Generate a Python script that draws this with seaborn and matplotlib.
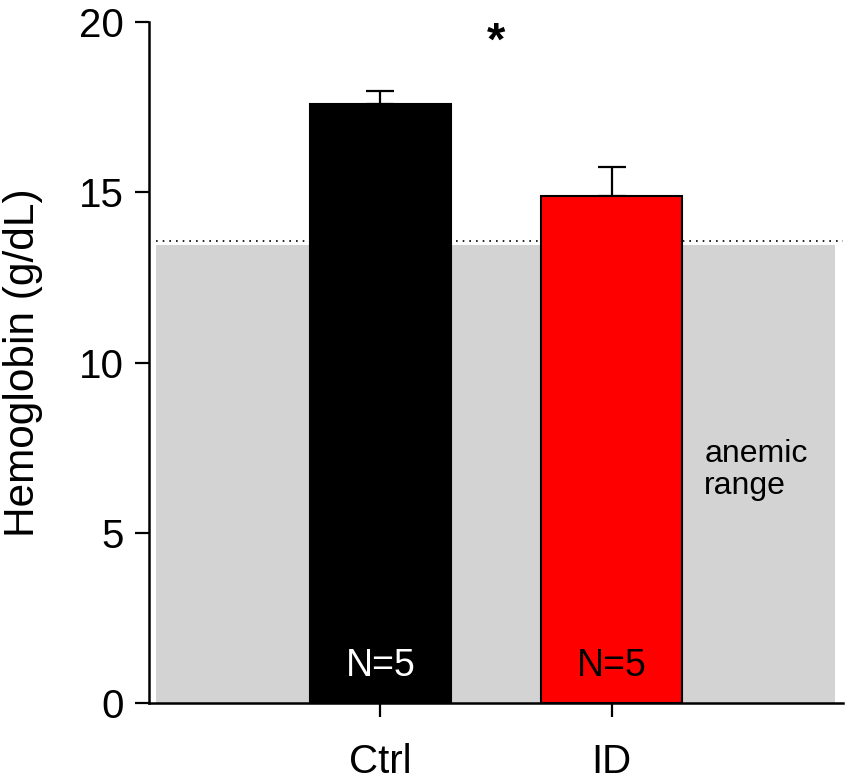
import matplotlib
matplotlib.use("Agg")
import matplotlib.pyplot as plt
import seaborn as sns
import pandas as pd

# data
groups = ["Ctrl", "ID"]
hb_mean = [17.58, 14.88]
hb_sem = [0.38, 0.86]
n_labels = ["N=5", "N=5"]
anemic_top = 13.45
anemic_threshold = 13.58

bar_colors = ["#000000", "#ff0000"]
n_text_colors = ["white", "black"]

df = pd.DataFrame({"group": groups, "hb": hb_mean})

sns.set_style("ticks")
plt.rcParams["font.family"] = ["Liberation Sans", "DejaVu Sans"]
plt.rcParams["text.color"] = "black"

fig = plt.figure(figsize=(8.51, 7.84), dpi=100)
ax = fig.add_axes([0.1751, 0.1033, 0.8155, 0.8686])

# anemic range shading + threshold line
ax.fill_between([-0.97, 1.965], 0, anemic_top, color="#d3d3d3", lw=0, zorder=0)
ax.hlines(anemic_threshold, -0.97, 2.0, colors="black", linestyles=(0, (1, 3)), lw=1.2, zorder=1)

sns.barplot(data=df, x="group", y="hb", hue="group", palette=bar_colors,
            saturation=1, width=0.61, edgecolor="black", linewidth=1.5,
            errorbar=None, legend=False, ax=ax, zorder=2)

# upper SEM only
ax.errorbar(range(len(groups)), hb_mean, yerr=[[0] * len(groups), hb_sem],
            fmt="none", ecolor="black", elinewidth=1.6, capsize=10, capthick=1.6, zorder=1.5)

for i, (lab, c) in enumerate(zip(n_labels, n_text_colors)):
    ax.text(i, 1.1, lab, ha="center", va="center", color=c, fontsize=27)

ax.text(0.5, 19.4, "*", ha="center", va="center", fontsize=34, fontweight="bold")
ax.text(1.40, 6.85, "anemic\nrange", ha="left", va="center", fontsize=23, linespacing=1.1)

ax.set_xlim(-1.0, 2.0)
ax.set_ylim(0, 20)
ax.set_yticks([0, 5, 10, 15, 20])
ax.set_xlabel("")
ax.set_ylabel("Hemoglobin (g/dL)", fontsize=30.5, labelpad=26, color="black")
ax.tick_params(axis="both", labelsize=29, length=10, width=1.6, color="black", labelcolor="black")
ax.tick_params(axis="x", pad=19)
ax.tick_params(axis="y", pad=8)
for s in ["left", "bottom"]:
    ax.spines[s].set_linewidth(1.8)
    ax.spines[s].set_color("black")
sns.despine(ax=ax)

fig.savefig("out.png", dpi=100)
